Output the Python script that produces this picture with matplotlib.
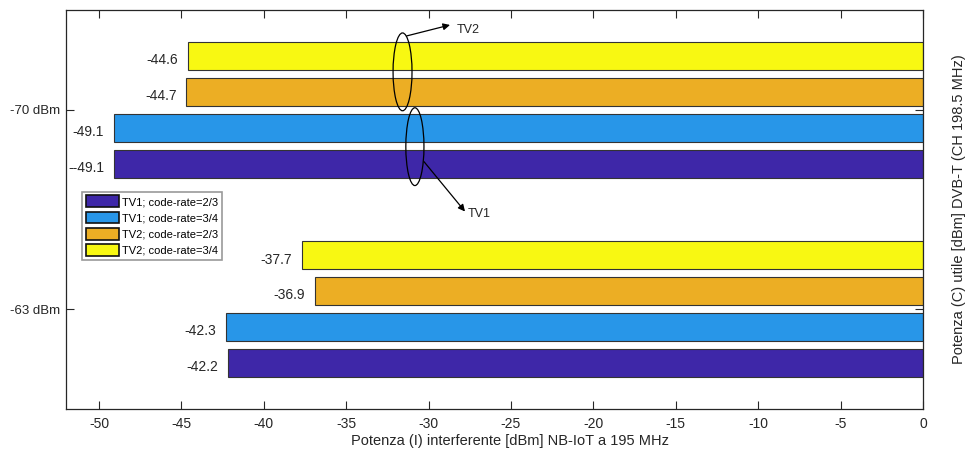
import matplotlib
matplotlib.use("Agg")
import matplotlib.pyplot as plt
from matplotlib.patches import Ellipse, Patch
import numpy as np

plt.rcParams['font.family'] = ['Liberation Sans', 'DejaVu Sans']

# ---- data ----
groups = ['-70 dBm', '-63 dBm']
series = ['TV1; code-rate=2/3', 'TV1; code-rate=3/4', 'TV2; code-rate=2/3', 'TV2; code-rate=3/4']
tv1_cr23 = [-49.1, -42.2]
tv1_cr34 = [-49.1, -42.3]
tv2_cr23 = [-44.7, -36.9]
tv2_cr34 = [-44.6, -37.7]
tv1_cr23_labels = ['--49.1', '-42.2']
tv1_cr34_labels = ['-49.1', '-42.3']
tv2_cr23_labels = ['-44.7', '-36.9']
tv2_cr34_labels = ['-44.6', '-37.7']
xticks = [-50, -45, -40, -35, -30, -25, -20, -15, -10, -5, 0]

colors = ['#3E27A8', '#2896E8', '#ECAE24', '#F8F812']
values = [tv1_cr23, tv1_cr34, tv2_cr23, tv2_cr34]
labels = [tv1_cr23_labels, tv1_cr34_labels, tv2_cr23_labels, tv2_cr34_labels]
offsets = [0.27, 0.09, -0.09, -0.27]

fig = plt.figure(figsize=(9.66, 4.53), dpi=100)
ax = fig.add_axes([66/966, 44/453, 857/966, 399/453])
txtc = '#262626'

gpos = np.arange(len(groups))
handles = []
for vals, labs, off, col, name in zip(values, labels, offsets, colors, series):
    y = gpos + off
    ax.barh(y, vals, left=0, height=0.14, color=col, edgecolor='#333333', linewidth=0.8)
    for yy, v, lab in zip(y, vals, labs):
        ax.annotate(lab, (v, yy), xytext=(-7, -3), textcoords='offset points',
                    ha='right', va='center', fontsize=10, color=txtc)
    handles.append(Patch(facecolor=col, edgecolor='#111111', linewidth=1.2, label=name))

ax.set_xlim(-52, 0)
ax.set_ylim(1.5, -0.5)
ax.set_xticks(xticks)
ax.set_xticklabels([str(t) for t in xticks])
ax.set_yticks(gpos)
ax.set_yticklabels(groups)
ax.tick_params(direction='in', length=6, width=0.8, colors=txtc,
               top=True, right=True, labelcolor=txtc)
ax.tick_params(axis='x', pad=6, labelsize=10)
ax.tick_params(axis='y', pad=4.5, labelsize=9.5)
for s in ax.spines.values():
    s.set_color(txtc)
    s.set_linewidth(0.9)

ax.set_xlabel('Potenza (I) interferente [dBm] NB-IoT a 195 MHz', fontsize=10.5, color=txtc)
ax.xaxis.set_label_coords(0.518, -0.062)
ax.yaxis.set_label_position('right')
ax.set_ylabel('Potenza (C) utile [dBm] DVB-T (CH 198.5 MHz)', fontsize=10.5, color=txtc,
              rotation=90, labelpad=21)

# annotations
ax.add_patch(Ellipse((-31.58, -0.19), 1.15, 0.39, fill=False, edgecolor='black', linewidth=0.9))
ax.add_patch(Ellipse((-30.83, 0.185), 1.1, 0.39, fill=False, edgecolor='black', linewidth=0.9))
ax.annotate('', xy=(-28.7, -0.425), xytext=(-31.33, -0.37),
            arrowprops=dict(arrowstyle='-|>', color='black', lw=0.9, mutation_scale=10, shrinkA=0, shrinkB=0))
ax.text(-28.3, -0.40, 'TV2', fontsize=9, color=txtc, va='center', ha='left')
ax.annotate('', xy=(-27.79, 0.51), xytext=(-30.28, 0.26),
            arrowprops=dict(arrowstyle='-|>', color='black', lw=0.9, mutation_scale=10, shrinkA=0, shrinkB=0))
ax.text(-27.6, 0.525, 'TV1', fontsize=9, color=txtc, va='center', ha='left')

leg = ax.legend(handles=handles, loc='upper left', bbox_to_anchor=(0.0187, 0.545),
                fontsize=8, handlelength=3.0, handleheight=1.25, handletextpad=0.25,
                labelspacing=0.4, borderpad=0.35, borderaxespad=0, fancybox=False,
                frameon=True, edgecolor='#808080')
leg.get_frame().set_linewidth(1.2)

fig.savefig('out.png', dpi=100)
